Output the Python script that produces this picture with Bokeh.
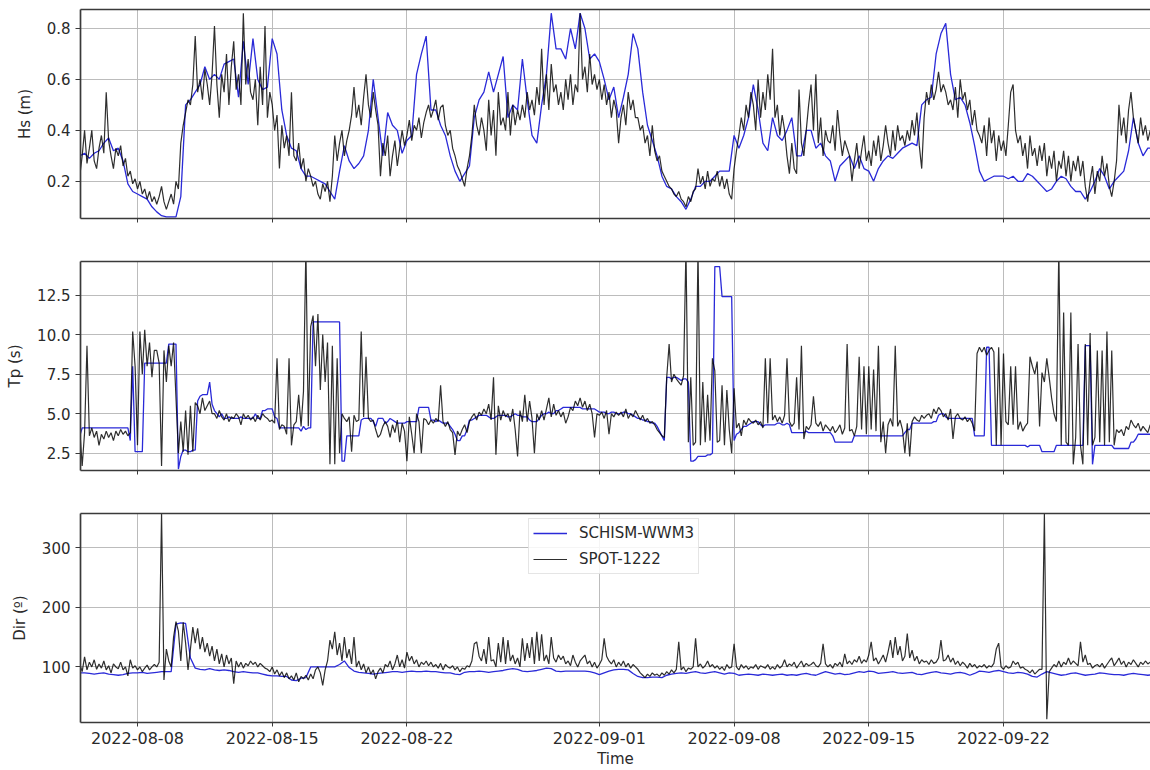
import pandas as pd
from bokeh.plotting import figure
from bokeh.layouts import column
from bokeh.models import (Range1d, FixedTicker, DatetimeTickFormatter, LinearAxis,
                          Legend, LegendItem, PrintfTickFormatter)
from bokeh.embed import file_html
from bokeh.resources import INLINE

# ---------------- data ----------------
# model (SCHISM-WWM3), 6-hourly from 2022-08-05 00:00
hs_model = [
    0.30, 0.31, 0.29, 0.31,  0.32, 0.35, 0.37, 0.32,  0.33, 0.28, 0.19, 0.16,
    0.15, 0.14, 0.13, 0.10,  0.08, 0.065, 0.06, 0.06, 0.06, 0.14, 0.50, 0.52,
    0.55, 0.58, 0.65, 0.60,  0.62, 0.60, 0.66, 0.67,  0.68, 0.53, 0.75, 0.58,
    0.76, 0.60, 0.56, 0.57,  0.76, 0.70, 0.48, 0.38,  0.33, 0.32, 0.25, 0.22,
    0.22, 0.21, 0.20, 0.19,  0.16, 0.13, 0.24, 0.34,  0.28, 0.25, 0.27, 0.30,
    0.40, 0.60, 0.45, 0.30,  0.47, 0.42, 0.40, 0.31,  0.36, 0.38, 0.62, 0.70,
    0.77, 0.48, 0.48, 0.42,  0.38, 0.30, 0.24, 0.20,  0.23, 0.26, 0.45, 0.52,
    0.55, 0.63, 0.55, 0.62,  0.69, 0.45, 0.50, 0.48,  0.68, 0.52, 0.38, 0.35,
    0.50, 0.62, 0.86, 0.72,  0.72, 0.68, 0.80, 0.72,  0.86, 0.80, 0.68, 0.70,
    0.67, 0.60, 0.52, 0.57,  0.45, 0.53, 0.62, 0.78,  0.72, 0.55, 0.42, 0.36,
    0.30, 0.22, 0.18, 0.17,  0.14, 0.12, 0.09, 0.13,  0.18, 0.18, 0.20, 0.20,
    0.22, 0.24, 0.24, 0.24,  0.38, 0.33, 0.38, 0.45,  0.58, 0.48, 0.35, 0.32,
    0.45, 0.38, 0.36, 0.40,  0.45, 0.30, 0.30, 0.40,  0.40, 0.33, 0.35, 0.30,
    0.28, 0.20, 0.26, 0.28,  0.30, 0.25, 0.30, 0.25,  0.24, 0.20, 0.25, 0.28,
    0.30, 0.29, 0.31, 0.33,  0.34, 0.35, 0.34, 0.50,  0.52, 0.53, 0.70, 0.78,
    0.82, 0.62, 0.52, 0.53,  0.50, 0.43, 0.34, 0.24,  0.20, 0.21, 0.22, 0.22,
    0.22, 0.21, 0.22, 0.20,  0.20, 0.23, 0.22, 0.20,  0.18, 0.16, 0.17, 0.20,
    0.22, 0.21, 0.18, 0.16,  0.16, 0.13, 0.16, 0.20,  0.25, 0.22, 0.17, 0.20,
    0.22, 0.24, 0.32, 0.45,  0.35, 0.30, 0.33, 0.33,
]

# buoy (SPOT-1222), 3-hourly from 2022-08-05 00:00
hs_buoy = [
    0.22, 0.30, 0.40, 0.27, 0.33, 0.40, 0.28, 0.25,
    0.33, 0.38, 0.31, 0.55, 0.36, 0.30, 0.25, 0.33,
    0.30, 0.34, 0.26, 0.29, 0.22, 0.24, 0.19, 0.21,
    0.17, 0.20, 0.15, 0.17, 0.13, 0.16, 0.12, 0.14,
    0.11, 0.14, 0.18, 0.12, 0.09, 0.12, 0.15, 0.11,
    0.20, 0.17, 0.35, 0.42, 0.47, 0.52, 0.50, 0.58,
    0.77, 0.55, 0.60, 0.52, 0.64, 0.58, 0.50, 0.62,
    0.81, 0.58, 0.45, 0.62, 0.55, 0.70, 0.50, 0.65,
    0.75, 0.56, 0.62, 0.50, 0.86, 0.58, 0.68, 0.55,
    0.52, 0.60, 0.42, 0.65, 0.50, 0.81, 0.45, 0.55,
    0.50, 0.40, 0.46, 0.25, 0.42, 0.33, 0.38, 0.30,
    0.55, 0.30, 0.28, 0.35, 0.25, 0.29, 0.20, 0.25,
    0.22, 0.18, 0.20, 0.15, 0.13, 0.19, 0.16, 0.20,
    0.12, 0.22, 0.38, 0.28, 0.35, 0.40, 0.30, 0.36,
    0.40, 0.46, 0.57, 0.45, 0.50, 0.42, 0.53, 0.62,
    0.50, 0.45, 0.55, 0.48, 0.42, 0.22, 0.35, 0.30,
    0.38, 0.22, 0.30, 0.36, 0.26, 0.33, 0.40, 0.34,
    0.38, 0.44, 0.36, 0.42, 0.40, 0.45, 0.37, 0.43,
    0.47, 0.50, 0.45, 0.48, 0.52, 0.44, 0.49, 0.50,
    0.42, 0.38, 0.40, 0.33, 0.30, 0.26, 0.24, 0.21,
    0.18, 0.25, 0.30, 0.38, 0.50, 0.42, 0.38, 0.45,
    0.40, 0.32, 0.52, 0.38, 0.48, 0.30, 0.55, 0.42,
    0.45, 0.40, 0.55, 0.38, 0.50, 0.42, 0.48, 0.44,
    0.50, 0.45, 0.55, 0.48, 0.52, 0.46, 0.57, 0.50,
    0.72, 0.50, 0.62, 0.48, 0.66, 0.55, 0.58, 0.50,
    0.55, 0.48, 0.60, 0.52, 0.62, 0.50, 0.58, 0.55,
    0.86, 0.60, 0.65, 0.55, 0.70, 0.58, 0.62, 0.56,
    0.60, 0.52, 0.58, 0.50, 0.55, 0.45, 0.52, 0.48,
    0.35, 0.45, 0.50, 0.42, 0.55, 0.48, 0.52, 0.45,
    0.45, 0.40, 0.42, 0.35, 0.38, 0.30, 0.42, 0.32,
    0.28, 0.30, 0.24, 0.22, 0.20, 0.18, 0.17, 0.15,
    0.14, 0.16, 0.13, 0.12, 0.10, 0.14, 0.12, 0.16,
    0.17, 0.25, 0.19, 0.22, 0.17, 0.24, 0.18, 0.21,
    0.20, 0.24, 0.18, 0.22, 0.17, 0.21, 0.15, 0.13,
    0.25, 0.32, 0.38, 0.45, 0.40, 0.50, 0.45, 0.55,
    0.50, 0.40, 0.60, 0.45, 0.55, 0.48, 0.62, 0.52,
    0.72, 0.45, 0.50, 0.38, 0.46, 0.40, 0.30, 0.23,
    0.35, 0.25, 0.23, 0.56, 0.35, 0.30, 0.40, 0.50,
    0.58, 0.40, 0.62, 0.35, 0.45, 0.30, 0.40, 0.36,
    0.35, 0.42, 0.32, 0.48, 0.38, 0.30, 0.36, 0.33,
    0.30, 0.20, 0.28, 0.35, 0.25, 0.32, 0.38, 0.28,
    0.32, 0.26, 0.36, 0.30, 0.38, 0.28, 0.34, 0.42,
    0.35, 0.30, 0.40, 0.32, 0.42, 0.36, 0.38, 0.34,
    0.40, 0.36, 0.44, 0.38, 0.47, 0.34, 0.25, 0.45,
    0.55, 0.50, 0.58, 0.52, 0.56, 0.63, 0.55, 0.58,
    0.55, 0.50, 0.52, 0.48, 0.57, 0.45, 0.60, 0.52,
    0.55, 0.48, 0.52, 0.42, 0.48, 0.40, 0.38, 0.35,
    0.42, 0.30, 0.45, 0.35, 0.40, 0.28, 0.38, 0.32,
    0.36, 0.30, 0.42, 0.55, 0.58, 0.40, 0.35, 0.38,
    0.30, 0.35, 0.25, 0.38, 0.30, 0.33, 0.26, 0.34,
    0.28, 0.35, 0.22, 0.30, 0.25, 0.32, 0.20, 0.28,
    0.25, 0.32, 0.22, 0.30, 0.20, 0.28, 0.24, 0.30,
    0.22, 0.28, 0.18, 0.12, 0.20, 0.26, 0.15, 0.24,
    0.20, 0.30, 0.22, 0.27, 0.18, 0.14, 0.20, 0.28,
    0.50, 0.38, 0.45, 0.35, 0.48, 0.55, 0.45, 0.40,
    0.35, 0.45, 0.38, 0.42, 0.36, 0.40,
]

# peak period, 3-hourly
tp_model = [
    3.6, 4.1, 4.1, 4.1, 4.1, 4.1, 4.1, 4.1,
    4.1, 4.1, 4.1, 4.1, 4.1, 4.1, 4.1, 4.1,
    4.1, 4.1, 4.1, 4.1, 4.1, 3.3, 8.0, 2.6,
    2.6, 2.6, 2.6, 8.2, 8.2, 8.2, 8.2, 8.2,
    8.2, 8.2, 8.2, 8.2, 8.2, 9.4, 9.4, 9.4,
    9.4, 1.5, 2.3, 2.7, 2.7, 2.6, 2.6, 2.7,
    2.7, 5.8, 6.1, 6.2, 6.2, 6.2, 7.0, 5.6,
    5.2, 5.0, 4.8, 5.0, 4.7, 4.7, 4.8, 4.7,
    4.7, 4.7, 4.7, 4.8, 4.7, 4.7, 4.7, 4.7,
    4.7, 5.0, 4.7, 4.7, 5.2, 5.2, 5.3, 5.3,
    5.3, 4.8, 4.7, 4.1, 4.1, 4.1, 4.1, 4.1,
    4.1, 4.1, 4.1, 4.1, 3.9, 4.2, 4.0, 4.1,
    4.1, 10.8, 10.8, 10.8, 10.8, 10.8, 10.8, 10.8,
    10.8, 10.8, 10.8, 10.8, 10.8, 2.0, 2.0, 3.6,
    3.6, 3.6, 3.6, 3.6, 3.6, 4.6, 4.7, 4.7,
    4.7, 4.7, 4.5, 4.2, 4.7, 4.7, 4.7, 4.4,
    4.5, 4.7, 4.6, 4.5, 4.4, 4.4, 4.4, 4.4,
    4.5, 4.5, 4.5, 4.5, 4.5, 5.4, 5.4, 5.4,
    5.4, 5.4, 4.6, 4.6, 4.5, 4.6, 4.5, 4.4,
    4.4, 4.4, 4.2, 4.0, 3.7, 3.3, 3.3, 3.6,
    3.6, 4.0, 4.6, 4.6, 4.7, 4.8, 4.9, 4.9,
    4.9, 4.9, 4.8, 4.7, 4.7, 4.8, 4.9, 4.9,
    4.9, 4.9, 4.8, 4.8, 4.9, 5.0, 4.9, 4.9,
    4.8, 4.8, 4.8, 4.6, 4.5, 4.5, 4.5, 4.7,
    4.9, 5.0, 5.0, 5.1, 5.0, 5.0, 5.2, 5.2,
    5.3, 5.4, 5.4, 5.4, 5.4, 5.4, 5.4, 5.4,
    5.4, 5.3, 5.3, 5.3, 5.3, 5.3, 5.3, 5.2,
    5.1, 5.1, 5.1, 5.0, 5.0, 5.1, 5.1, 5.0,
    5.0, 5.0, 5.1, 5.1, 5.0, 5.0, 4.9, 4.8,
    4.7, 4.7, 4.6, 4.6, 4.5, 4.5, 4.4, 4.4,
    4.2, 3.9, 3.6, 3.3, 7.3, 7.3, 7.2, 7.3,
    7.3, 7.2, 7.1, 7.2, 7.2, 7.0, 2.0, 2.0,
    2.1, 2.3, 2.3, 2.3, 2.3, 2.4, 2.4, 2.5,
    14.3, 14.3, 14.3, 12.4, 12.4, 12.4, 12.4, 12.4,
    3.3, 3.7, 3.8, 4.0, 4.2, 4.2, 4.3, 4.4,
    4.5, 4.5, 4.5, 4.3, 4.2, 4.3, 4.3, 4.3,
    4.3, 4.3, 4.4, 4.4, 4.3, 4.3, 4.4, 4.3,
    3.8, 3.8, 3.8, 3.8, 3.8, 3.8, 3.9, 3.8,
    3.8, 3.8, 3.8, 3.8, 3.8, 3.8, 3.8, 3.8,
    3.8, 3.6, 3.2, 3.2, 3.2, 3.2, 3.2, 3.2,
    3.2, 3.2, 3.6, 3.6, 3.6, 3.6, 3.6, 3.6,
    3.6, 3.6, 3.6, 3.6, 3.6, 3.6, 3.6, 3.6,
    3.6, 3.6, 3.6, 3.6, 3.6, 3.6, 3.6, 3.8,
    4.0, 4.0, 4.4, 4.4, 4.4, 4.4, 4.4, 4.4,
    4.4, 4.4, 4.4, 4.5, 4.5, 4.9, 5.0, 5.0,
    4.8, 4.7, 4.7, 4.7, 4.7, 4.7, 4.7, 4.7,
    4.7, 4.7, 4.7, 4.7, 3.6, 3.6, 3.6, 3.6,
    3.6, 9.2, 9.2, 3.0, 3.0, 3.0, 3.0, 3.0,
    3.0, 3.0, 3.0, 3.0, 3.0, 3.0, 3.0, 3.0,
    3.0, 3.0, 2.9, 3.0, 3.0, 3.0, 3.0, 3.0,
    2.6, 2.6, 2.6, 2.6, 2.6, 2.6, 3.0, 3.0,
    3.0, 3.0, 3.0, 3.0, 3.0, 3.0, 3.0, 3.0,
    3.0, 3.0, 9.3, 9.3, 9.3, 1.8, 3.0, 3.0,
    3.0, 3.0, 3.0, 3.0, 3.0, 3.0, 2.8, 2.8,
    2.8, 2.8, 2.8, 2.8, 2.8, 3.2, 3.2, 3.4,
    3.7, 3.7, 3.7, 3.7, 3.7, 3.7,
]

tp_buoy = [
    4.0, 1.7, 3.8, 9.3, 3.6, 4.1, 3.5, 3.9,
    3.0, 3.7, 3.4, 3.9, 3.5, 3.8, 3.3, 3.9,
    3.6, 4.0, 3.7, 3.9, 3.6, 3.8, 10.2, 8.0,
    3.0, 10.2, 7.5, 10.3, 8.0, 9.5, 7.3, 9.0,
    9.0, 8.2, 1.7, 9.0, 7.0, 9.3, 8.0, 9.5,
    6.0, 2.5, 4.5, 2.6, 5.2, 2.4, 5.5, 2.6,
    5.7, 5.5, 5.0, 6.0, 5.2, 5.5, 5.8, 5.0,
    5.0, 4.7, 5.2, 4.8, 4.6, 5.0, 4.5, 4.8,
    4.7, 5.0, 4.8, 4.3, 5.0, 4.7, 4.9, 4.6,
    4.8, 4.5, 4.9, 4.6, 5.0, 4.8, 4.7, 4.5,
    4.6, 4.4, 8.5, 4.0, 4.3, 4.2, 3.7, 8.5,
    3.0, 4.3, 4.5, 6.2, 4.2, 6.4, 15.5, 4.2,
    10.5, 11.2, 8.0, 11.3, 6.5, 10.0, 7.0, 9.5,
    1.8, 9.3, 1.8, 8.5, 2.5, 5.0, 4.7, 4.5,
    4.8, 2.6, 4.9, 4.5, 4.6, 10.2, 4.8, 8.6,
    4.7, 4.5, 4.6, 4.0, 3.5, 3.7, 4.2, 4.5,
    4.2, 3.5, 4.3, 3.8, 4.6, 3.2, 4.4, 3.9,
    2.0, 4.8, 3.7, 2.5, 5.0, 4.5, 2.5, 4.7,
    4.6, 4.3, 4.6, 4.4, 4.7, 4.5, 6.8, 4.5,
    4.2, 4.5, 4.0, 3.8, 2.4, 3.9, 3.6, 4.0,
    4.3, 3.8, 4.5, 4.8, 5.0, 4.6, 5.1, 4.9,
    5.3, 5.0, 5.6, 4.6, 7.3, 2.4, 5.5, 4.6,
    5.2, 4.8, 5.0, 4.5, 5.3, 4.0, 2.3, 5.2,
    4.5, 6.2, 4.5, 5.8, 4.7, 2.5, 5.0, 4.6,
    5.2, 4.6, 5.3, 6.0, 4.8, 5.6, 4.9, 5.2,
    4.8, 5.1, 4.4, 4.8, 5.4, 5.2, 5.8, 5.5,
    6.0, 5.4, 5.8, 5.2, 5.6, 5.0, 3.5, 5.0,
    4.9, 5.1, 4.7, 5.2, 3.7, 5.0, 4.8, 5.1,
    4.9, 5.1, 4.8, 5.3, 4.7, 5.0, 4.8, 5.2,
    4.9, 4.6, 4.9, 4.5, 4.7, 4.4, 4.5, 4.3,
    4.0, 3.8, 3.6, 3.5, 7.3, 9.4, 7.0, 7.5,
    7.2, 7.0, 6.8, 7.4, 15.5, 3.2, 7.3, 3.0,
    3.2, 15.5, 3.0, 7.0, 3.2, 6.2, 3.3, 8.5,
    7.7, 3.2, 3.3, 6.8, 3.0, 6.5, 4.0, 2.5,
    6.6, 4.1, 4.4, 3.6, 4.6, 4.3, 4.7, 4.5,
    4.4, 4.6, 4.3, 4.5, 4.1, 8.5, 4.4, 8.5,
    4.6, 4.9, 4.5, 4.8, 4.4, 4.9, 8.5, 4.5,
    4.2, 4.4, 7.3, 4.0, 9.3, 3.4, 4.2, 4.0,
    4.3, 6.1, 4.4, 4.2, 4.5, 3.9, 4.3, 4.1,
    3.9, 4.2, 3.8, 4.0, 4.3, 3.7, 4.1, 9.4,
    3.9, 4.0, 3.6, 4.2, 8.6, 4.0, 8.0, 3.7,
    8.0, 4.0, 7.8, 3.9, 9.3, 3.2, 4.5, 2.5,
    4.3, 4.7, 4.2, 9.3, 4.2, 4.6, 4.0, 2.5,
    4.4, 2.3, 4.5, 4.8, 4.6, 4.5, 4.9, 4.7,
    4.9, 5.0, 4.7, 5.3, 5.0, 5.4, 5.2, 4.8,
    5.0, 4.6, 5.3, 3.4, 4.8, 5.0, 4.7, 4.6,
    4.8, 4.5, 4.7, 4.4, 3.9, 8.8, 9.2, 8.9,
    9.2, 8.7, 9.0, 9.2, 8.9, 3.0, 9.2, 3.0,
    8.8, 4.5, 4.3, 8.0, 4.3, 8.0, 4.0, 4.5,
    3.9, 4.2, 4.4, 8.6, 8.0, 7.5, 8.3, 4.2,
    7.6, 7.0, 8.5, 7.3, 6.0, 5.0, 4.5, 15.5,
    3.0, 11.4, 3.2, 3.0, 11.4, 1.8, 3.5, 9.4,
    3.0, 1.8, 9.4, 3.0, 10.1, 3.0, 3.5, 9.0,
    3.2, 9.0, 3.0, 10.2, 3.2, 9.0, 3.0, 4.0,
    3.8, 4.0, 3.6, 4.2, 4.0, 4.6, 4.3, 4.1,
    4.4, 3.9, 4.2, 4.0, 3.8, 4.3,
]

# mean direction, model 6-hourly, buoy 3-hourly
dir_model = [
    90, 90, 89, 88,  89, 90, 88, 87,  86, 87, 89, 90,  90, 91, 89, 90,
    91, 92, 92, 92,  172, 174, 173, 115,  98, 96, 95, 97,  95, 94, 95, 94,
    92, 91, 92, 91,  90, 90, 88, 86,  85, 85, 84, 84,  78, 77, 81, 82,
    100, 100, 100, 100,  100, 100, 104, 110,  99, 93, 91, 90,  89, 88, 89, 90,
    91, 92, 92, 91,  92, 93, 92, 92,  93, 92, 92, 91,  90, 90, 88, 87,
    91, 92, 92, 93,  92, 91, 92, 93,  94, 96, 97, 96,  93, 92, 93, 94,
    96, 98, 97, 93,  92, 93, 93, 93,  93, 93, 92, 90,  87, 90, 93, 95,
    96, 96, 95, 89,  84, 82, 82, 83,  83, 82, 86, 88,  89, 90, 89, 91,
    92, 90, 89, 91,  92, 90, 88, 90,  89, 86, 87, 88,  87, 86, 88, 87,
    86, 87, 88, 86,  87, 86, 88, 89,  87, 86, 89, 92,  90, 88, 89, 87,
    88, 90, 92, 91,  93, 92, 89, 90,  91, 92, 90, 89,  90, 91, 88, 87,
    89, 91, 92, 90,  89, 88, 90, 91,  89, 86, 89, 93,  92, 91, 93, 94,
    92, 90, 89, 91,  90, 88, 84, 83,  88, 92, 90, 88,  86, 87, 89, 90,
    88, 86, 87, 88,  90, 89, 88, 87,  87, 86, 88, 89,  88, 87, 86, 87,
]

dir_buoy = [
    105, 92, 117, 95, 108, 100, 112, 96,
    105, 98, 110, 95, 102, 90, 105, 100,
    97, 108, 95, 100, 85, 112, 98, 102,
    95, 100, 92, 98, 103, 95, 100, 104,
    100, 108, 359, 78, 130, 110, 100, 150,
    176, 160, 110, 175, 140, 95, 130, 167,
    140, 165, 130, 150, 125, 140, 118, 135,
    110, 130, 105, 122, 100, 120, 105, 115,
    72, 110, 100, 108, 98, 106, 102, 110,
    104, 108, 100, 106, 102, 98, 96, 92,
    100, 88, 95, 85, 92, 82, 90, 80,
    85, 78, 90, 75, 84, 80, 86, 78,
    88, 80, 95, 100, 90, 69, 95, 110,
    145, 130, 159, 120, 140, 110, 150, 115,
    130, 105, 150, 100, 110, 95, 105, 90,
    100, 88, 95, 80, 92, 98, 90, 104,
    100, 110, 95, 105, 120, 100, 112, 98,
    125, 110, 118, 105, 112, 100, 108, 104,
    110, 102, 108, 100, 104, 98, 106, 95,
    104, 100, 98, 102, 95, 100, 92, 98,
    96, 102, 100, 110, 139, 142, 118, 110,
    130, 105, 150, 110, 112, 100, 140, 108,
    150, 105, 145, 110, 120, 105, 115, 100,
    148, 110, 140, 115, 150, 105, 159, 110,
    155, 110, 120, 105, 150, 115, 108, 120,
    112, 118, 105, 110, 102, 120, 108, 100,
    110, 115, 120, 105, 110, 100, 108, 98,
    104, 112, 148, 118, 110, 105, 112, 100,
    108, 102, 110, 100, 106, 98, 104, 100,
    96, 90, 86, 82, 88, 84, 90, 86,
    88, 84, 90, 86, 92, 88, 95, 90,
    96, 142, 95, 100, 92, 98, 96, 100,
    148, 100, 105, 98, 102, 110, 100, 104,
    98, 102, 96, 100, 94, 104, 98, 100,
    139, 100, 95, 104, 98, 102, 96, 100,
    98, 104, 96, 102, 100, 98, 104, 96,
    100, 96, 104, 98, 102, 112, 100, 105,
    102, 108, 98, 104, 110, 100, 106, 102,
    104, 108, 102, 100, 106, 139, 105, 100,
    104, 98, 106, 102, 108, 100, 122, 105,
    110, 104, 112, 108, 118, 106, 112, 108,
    120, 142, 110, 115, 105, 112, 120, 108,
    125, 145, 115, 150, 120, 135, 110, 118,
    156, 115, 128, 110, 118, 105, 112, 108,
    110, 104, 112, 106, 108, 115, 145, 110,
    112, 120, 108, 115, 104, 110, 102, 108,
    104, 98, 106, 100, 104, 98, 102, 100,
    104, 98, 102, 100, 106, 130, 140, 100,
    96, 102, 98, 100, 110, 104, 108, 98,
    100, 96, 94, 90, 95, 88, 92, 96,
    96, 358, 12, 92, 98, 104, 100, 110,
    100, 108, 104, 115, 104, 110, 106, 102,
    142, 108, 120, 104, 106, 98, 102, 104,
    100, 106, 98, 104, 110, 115, 102, 108,
    115, 104, 110, 100, 108, 104, 112, 106,
    100, 108, 104, 110, 105, 108,
]

tick_labels = ["2022-08-08", "2022-08-15", "2022-08-22", "2022-09-01",
               "2022-09-08", "2022-09-15", "2022-09-22"]

# ---------------- time axes ----------------
t0 = pd.Timestamp("2022-08-05 00:00")
t_model6 = pd.date_range(t0, periods=len(hs_model), freq="6h")
t_model3 = pd.date_range(t0, periods=len(tp_model), freq="3h")
t_buoy = pd.date_range(t0, periods=len(hs_buoy), freq="3h")


def ms(ts):
    return pd.Timestamp(ts).value / 1e6


tick_ms = [ms(s) for s in tick_labels]
x_range = Range1d(start=ms("2022-08-05 00:55"), end=ms("2022-09-29 15:20"))

BLUE = "#2a2ad8"
SPINE = "#3a3a3a"
GRID = "#bcbcbc"
TEXT = "#2a2a2a"
FONT = "DejaVu Sans"


def panel(height, top, bottom, y0, y1, yticks, yfmt, ylabel, xlabels):
    p = figure(width=1150, height=height, x_axis_type="datetime", x_range=x_range,
               y_range=Range1d(y0, y1), output_backend="svg", toolbar_location=None,
               min_border_left=80, min_border_right=0,
               min_border_top=top, min_border_bottom=bottom)
    p.outline_line_color = None
    p.background_fill_color = "white"
    p.border_fill_color = "white"

    p.xaxis.ticker = FixedTicker(ticks=tick_ms)
    p.xaxis.formatter = DatetimeTickFormatter(
        days="%Y-%m-%d", months="%Y-%m-%d", hours="%Y-%m-%d", years="%Y-%m-%d")
    p.yaxis.ticker = FixedTicker(ticks=yticks)
    p.yaxis.formatter = PrintfTickFormatter(format=yfmt)

    for ax in (p.xaxis[0], p.yaxis[0]):
        ax.axis_line_color = SPINE
        ax.axis_line_width = 1.7
        ax.major_tick_line_color = SPINE
        ax.major_tick_line_width = 1
        ax.major_tick_in = 0
        ax.minor_tick_line_color = None
        ax.major_label_text_font = FONT
        ax.major_label_text_font_size = "15px"
        ax.major_label_text_color = TEXT
        ax.axis_label_text_font = FONT
        ax.axis_label_text_font_size = "15px"
        ax.axis_label_text_font_style = "normal"
        ax.axis_label_text_color = TEXT

    p.yaxis.major_tick_out = 5
    p.yaxis.major_label_standoff = 5
    p.yaxis.axis_label = ylabel
    p.yaxis.axis_label_standoff = 10

    p.xaxis.major_tick_out = 4
    if xlabels:
        p.xaxis.major_label_text_font_size = "16px"
        p.xaxis.major_label_standoff = 5
        p.xaxis.axis_label = "Time"
        p.xaxis.axis_label_standoff = 3
    else:
        # shared time axis: tick marks only, labels not painted
        p.xaxis.major_label_text_font_size = "10px"
        p.xaxis.major_label_text_color = None
        p.xaxis.major_label_standoff = 0

    # top spine
    top_axis = LinearAxis(ticker=FixedTicker(ticks=[]), axis_line_color=SPINE,
                          axis_line_width=1.7, major_tick_line_color=None,
                          minor_tick_line_color=None, major_label_standoff=0)
    p.add_layout(top_axis, "above")

    p.xgrid.grid_line_color = GRID
    p.ygrid.grid_line_color = GRID
    p.xgrid.grid_line_width = 1
    p.ygrid.grid_line_width = 1
    return p


BUOY_W = 1.2
BUOY_A = 0.82

p1 = panel(239, 9, 21, 0.054, 0.8745, [0.2, 0.4, 0.6, 0.8], "%.1f", "Hs (m)", False)
p1.line(t_model6, hs_model, line_color=BLUE, line_width=1.3)
p1.line(t_buoy, hs_buoy, line_color="black", line_width=BUOY_W, line_alpha=BUOY_A)

p2 = panel(252, 22, 21, 1.41, 14.62, [2.5, 5.0, 7.5, 10.0, 12.5], "%.1f", "Tp (s)", False)
p2.line(t_model3, tp_model, line_color=BLUE, line_width=1.3)
p2.line(t_buoy, tp_buoy, line_color="black", line_width=BUOY_W, line_alpha=BUOY_A)

p3 = panel(279, 22, 48, 6.6, 357.8, [100, 200, 300], "%d", "Dir (º)", True)
r_model = p3.line(t_model6, dir_model, line_color=BLUE, line_width=1.3)
r_buoy = p3.line(t_buoy, dir_buoy, line_color="black", line_width=BUOY_W, line_alpha=BUOY_A)

legend = Legend(items=[LegendItem(label="SCHISM-WWM3", renderers=[r_model]),
                       LegendItem(label="SPOT-1222", renderers=[r_buoy])],
                location=(448, 148))
legend.label_text_font = FONT
legend.label_text_font_size = "15px"
legend.label_text_color = TEXT
legend.glyph_width = 34
legend.glyph_height = 20
legend.label_height = 20
legend.label_standoff = 12
legend.padding = 4
legend.spacing = 6
legend.margin = 0
legend.border_line_color = "#cccccc"
legend.border_line_width = 1
legend.background_fill_alpha = 0.85
p3.add_layout(legend)

layout = column(p1, p2, p3, spacing=0)

open("out.html", "w").write(file_html(layout, INLINE))
